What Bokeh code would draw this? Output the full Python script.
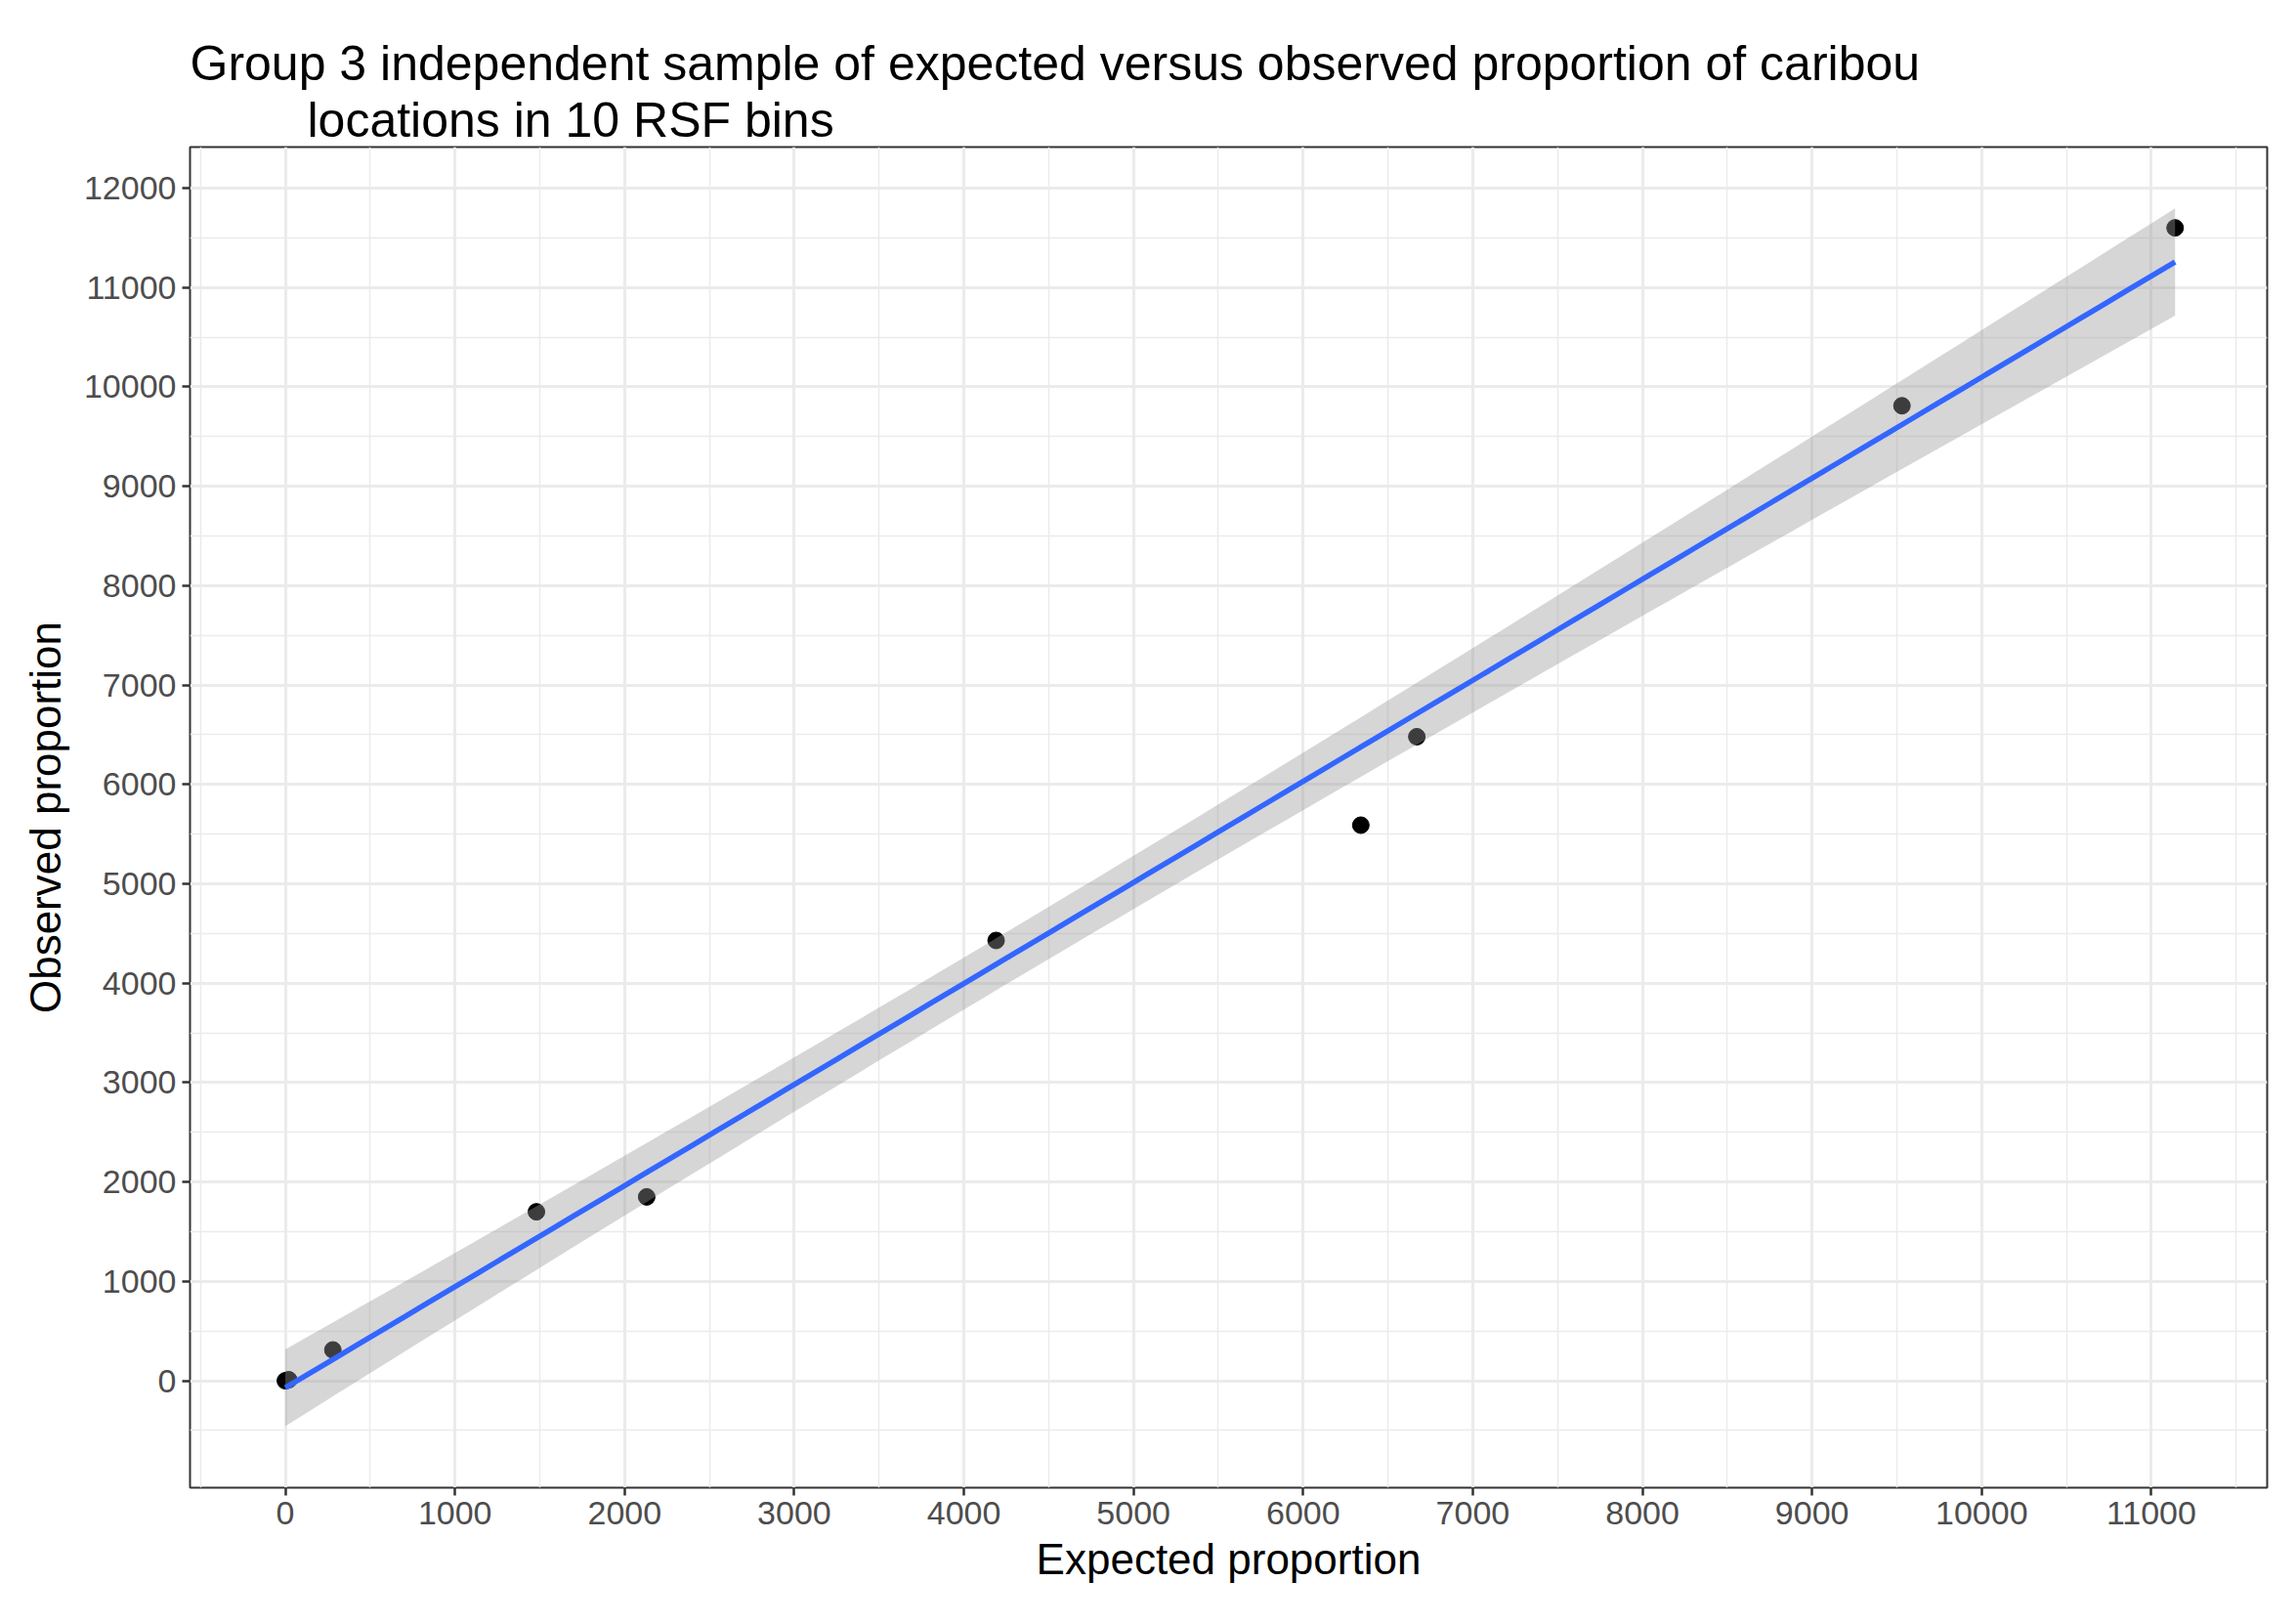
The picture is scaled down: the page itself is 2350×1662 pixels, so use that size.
import numpy as np
from bokeh.plotting import figure
from bokeh.models import FixedTicker, Title, Range1d
from bokeh.embed import file_html
from bokeh.resources import INLINE

expected = [0, 20, 280, 1480, 2130, 4190, 6340, 6670, 9530, 11140]
observed = [0, 10, 310, 1700, 1850, 4430, 5590, 6480, 9810, 11600]
x_ticks = list(range(0, 11001, 1000))
y_ticks = list(range(0, 12001, 1000))

x = np.array(expected, float); y = np.array(observed, float)
n = len(x)
b, a = np.polyfit(x, y, 1)
resid = y - (a + b * x)
s = np.sqrt((resid ** 2).sum() / (n - 2))
xs = np.linspace(x.min(), x.max(), 80)
yh = a + b * xs
se = s * np.sqrt(1 / n + (xs - x.mean()) ** 2 / ((x - x.mean()) ** 2).sum())
t = 2.306
lo, hi = yh - t * se, yh + t * se

W, H = 2334, 1646
p = figure(width=W, height=H, output_backend="svg", toolbar_location=None,
           x_range=Range1d(-562, 11683), y_range=Range1d(-1076, 12413),
           min_border_left=194, min_border_right=14, min_border_top=150, min_border_bottom=124)
p.title.visible = False
f = "Liberation Sans"
p.add_layout(Title(text="locations in 10 RSF bins", text_font=f, text_font_size="50px",
                   text_font_style="normal", offset=120, text_color="black", standoff=0), "above")
p.add_layout(Title(text="Group 3 independent sample of expected versus observed proportion of caribou",
                   text_font=f, text_font_size="50px", text_font_style="normal", text_color="black",
                   standoff=0), "above")

p.scatter(expected, observed, size=17, color="black")
p.varea(x=xs, y1=lo, y2=hi, fill_color="#999999", fill_alpha=0.4)
p.line(xs, yh, line_color="#3366FF", line_width=5.5)

p.xaxis.ticker = FixedTicker(ticks=x_ticks, minor_ticks=[v + 500 for v in range(-1000, 11001, 1000)])
p.yaxis.ticker = FixedTicker(ticks=y_ticks, minor_ticks=[v + 500 for v in range(-2000, 12001, 1000)])
p.xaxis.axis_label = "Expected proportion"
p.yaxis.axis_label = "Observed proportion"
for ax in (p.xaxis, p.yaxis):
    ax.axis_label_text_font = f
    ax.axis_label_text_font_size = "44px"
    ax.axis_label_text_font_style = "normal"
    ax.axis_label_text_color = "black"
    ax.major_label_text_font = f
    ax.major_label_text_font_size = "34px"
    ax.major_label_text_color = "#4D4D4D"
    ax.axis_line_color = None
    ax.major_tick_line_color = "#333333"
    ax.major_tick_line_width = 2.5
    ax.major_tick_out = 8
    ax.major_tick_in = 0
    ax.minor_tick_line_color = None
    ax.major_label_standoff = 6
p.xaxis.axis_label_standoff = 8
p.yaxis.axis_label_standoff = 12
for g in (p.xgrid, p.ygrid):
    g.grid_line_color = "#EBEBEB"
    g.grid_line_width = 3
    g.minor_grid_line_color = "#EBEBEB"
    g.minor_grid_line_width = 1.5
p.outline_line_color = "#333333"
p.outline_line_width = 2
p.background_fill_color = "white"

open("out.html", "w").write(file_html(p, INLINE))
